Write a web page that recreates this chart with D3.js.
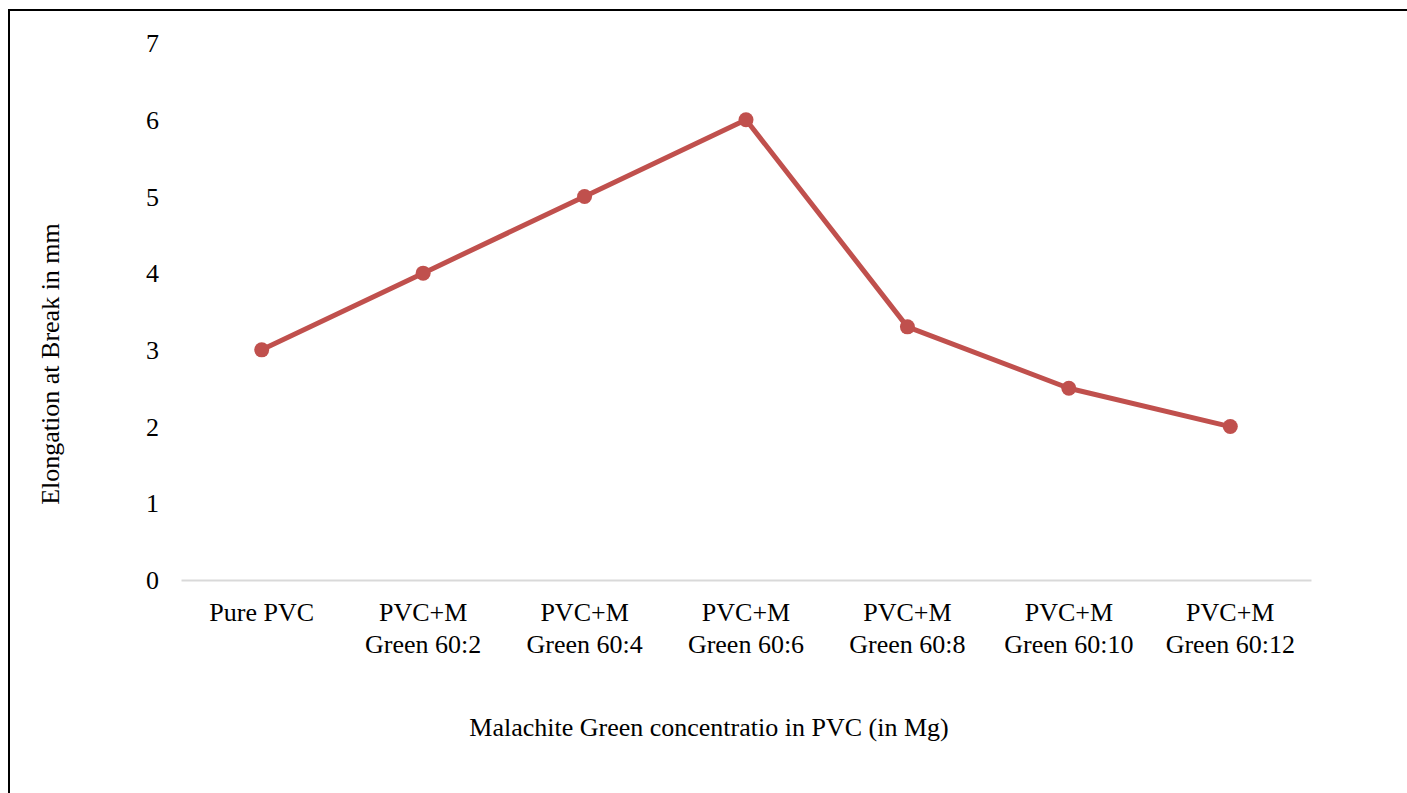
<!DOCTYPE html>
<html>
<head>
<meta charset="utf-8">
<script src="https://cdn.jsdelivr.net/npm/d3@7"></script>
<style>
  html, body { margin: 0; padding: 0; background: #fff; }
  svg { display: block; }
  text { font-family: "Liberation Serif", "Times New Roman", serif; fill: #000; }
</style>
</head>
<body>
<svg id="chart" width="1407" height="793"></svg>
<script>
// Elongation at break for PVC films with increasing malachite green content
const categories = [
  ["Pure PVC"],
  ["PVC+M", "Green 60:2"],
  ["PVC+M", "Green 60:4"],
  ["PVC+M", "Green 60:6"],
  ["PVC+M", "Green 60:8"],
  ["PVC+M", "Green 60:10"],
  ["PVC+M", "Green 60:12"]
];
const elongation = [3, 4, 5, 6, 3.3, 2.5, 2];
const yTicks = [0, 1, 2, 3, 4, 5, 6, 7];

const svg = d3.select("#chart");
const W = 1407, H = 793;
const plot = { left: 181, right: 1311, top: 43, bottom: 580 };

// outer frame (right and bottom edges fall outside the view)
svg.append("rect")
  .attr("x", 9).attr("y", 10)
  .attr("width", W + 20).attr("height", H + 20)
  .attr("fill", "none").attr("stroke", "#000").attr("stroke-width", 2);

const x = d3.scaleBand()
  .domain(d3.range(categories.length))
  .range([plot.left, plot.right]);

const y = d3.scaleLinear().domain([0, 7]).range([plot.bottom, plot.top]);

// y-axis labels
const yAxis = d3.axisLeft(y).tickValues(yTicks).tickSize(0).tickPadding(0).tickFormat(d3.format("d"));
const gy = svg.append("g").attr("transform", `translate(${159},0)`).call(yAxis);
gy.select(".domain").remove();
gy.selectAll("text")
  .attr("font-family", "Liberation Serif, Times New Roman, serif")
  .attr("font-size", 26).attr("fill", "#000").attr("dy", "0.33em");

// category axis baseline
const xAxis = d3.axisBottom(x).tickSize(0).tickFormat("");
const gx = svg.append("g").attr("transform", `translate(0,${plot.bottom})`).call(xAxis);
gx.select(".domain").attr("stroke", "#d9d9d9").attr("stroke-width", 2);

// two-line category labels
gx.selectAll(".tick").each(function (i) {
  const t = d3.select(this).select("text")
    .attr("font-family", "Liberation Serif, Times New Roman, serif")
    .attr("font-size", 26).attr("fill", "#000")
    .attr("text-anchor", "middle").attr("y", 0).attr("dy", null).text(null);
  categories[i].forEach((line, k) => {
    t.append("tspan").attr("x", 0).attr("y", 41 + k * 32).text(line);
  });
});

const cx = i => x(i) + x.bandwidth() / 2;

// data line
const line = d3.line().x((d, i) => cx(i)).y(d => y(d));
svg.append("path")
  .datum(elongation)
  .attr("d", line)
  .attr("fill", "none")
  .attr("stroke", "#c0504d")
  .attr("stroke-width", 5)
  .attr("stroke-linejoin", "round");

svg.selectAll("circle.pt")
  .data(elongation)
  .join("circle")
  .attr("class", "pt")
  .attr("cx", (d, i) => cx(i))
  .attr("cy", d => y(d))
  .attr("r", 7.5)
  .attr("fill", "#c0504d");

// axis titles
svg.append("text")
  .attr("x", 709).attr("y", 736)
  .attr("text-anchor", "middle")
  .attr("font-size", 26)
  .text("Malachite Green concentratio in PVC (in Mg)");

svg.append("text")
  .attr("transform", "translate(59,364) rotate(-90)")
  .attr("text-anchor", "middle")
  .attr("font-size", 26)
  .text("Elongation at Break in mm");
</script>
</body>
</html>
